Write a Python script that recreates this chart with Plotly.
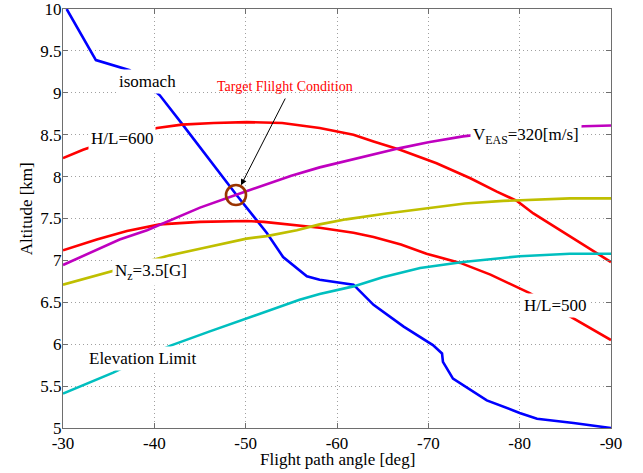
import plotly.graph_objects as go

# Constant-parameter curves over flight path angle [deg] vs altitude [km]
isomach_x = [-30.4, -33.6, -37.3, -40.6, -43.1, -46.0, -49.0, -52.3, -54.1, -56.7,
             -58.1, -61.8, -64.0, -67.3, -70.5, -71.5, -71.6, -72.7, -76.4, -80.0,
             -81.9, -85.9, -90.0]
isomach_y = [10.0, 9.39, 9.27, 8.97, 8.62, 8.20, 7.78, 7.33, 7.04, 6.81,
             6.77, 6.71, 6.47, 6.21, 5.99, 5.89, 5.79, 5.59, 5.33, 5.18,
             5.11, 5.06, 5.00]

hl600_x = [-30.0, -32.2, -36.0, -40.3, -43.0, -46.5, -50.1, -54.0, -58.1, -61.8,
           -64.0, -66.9, -70.9, -74.6, -77.5, -79.7, -81.5, -84.0, -86.2, -90.0]
hl600_y = [8.22, 8.32, 8.46, 8.58, 8.62, 8.64, 8.65, 8.64, 8.58, 8.50,
           8.42, 8.32, 8.16, 7.98, 7.82, 7.71, 7.56, 7.39, 7.24, 6.98]

hl500_x = [-30.0, -33.7, -37.0, -40.6, -45.0, -50.1, -52.0, -55.9, -58.1, -61.8,
           -64.0, -67.0, -69.8, -73.5, -76.8, -81.1, -83.5, -86.1, -90.0]
hl500_y = [7.12, 7.25, 7.35, 7.43, 7.46, 7.47, 7.46, 7.42, 7.39, 7.33,
           7.28, 7.19, 7.08, 6.97, 6.83, 6.61, 6.46, 6.30, 6.05]

veas_x = [-30.0, -34.05, -36.2, -39.2, -42.0, -45.0, -48.9, -52.0, -55.0, -58.1,
          -61.1, -64.0, -66.9, -70.0, -73.8, -77.0, -80.0, -84.0, -87.0, -90.0]
veas_y = [6.945, 7.14, 7.25, 7.36, 7.49, 7.63, 7.78, 7.90, 8.01, 8.11,
          8.19, 8.27, 8.34, 8.41, 8.48, 8.52, 8.55, 8.58, 8.60, 8.61]

nz_x = [-30.0, -34.8, -38.0, -41.7, -45.0, -50.1, -52.3, -55.6, -58.1, -61.0,
        -65.4, -70.9, -74.0, -78.2, -82.0, -85.5, -90.0]
nz_y = [6.71, 6.85, 6.95, 7.06, 7.14, 7.26, 7.29, 7.36, 7.43, 7.49,
        7.56, 7.64, 7.68, 7.71, 7.73, 7.74, 7.74]

elev_x = [-30.0, -35.5, -38.5, -41.7, -46.0, -50.1, -55.9, -58.1, -61.8, -65.0,
          -69.1, -73.8, -77.0, -80.0, -85.5, -90.0]
elev_y = [5.41, 5.66, 5.82, 5.98, 6.15, 6.31, 6.53, 6.60, 6.69, 6.80,
          6.91, 6.98, 7.02, 7.05, 7.08, 7.08]

target_x = [-48.94]
target_y = [7.78]

x_ticks = [-30, -40, -50, -60, -70, -80, -90]
y_ticks = [5, 5.5, 6, 6.5, 7, 7.5, 8, 8.5, 9, 9.5, 10]
y_tick_text = ["5", "5.5", "6", "6.5", "7", "7.5", "8", "8.5", "9", "9.5", "10"]

FONT = "Liberation Serif, Times New Roman, serif"
LW = 2.6

series = [
    (isomach_x, isomach_y, "#0000ff"),
    (hl600_x, hl600_y, "#ff0000"),
    (hl500_x, hl500_y, "#ff0000"),
    (veas_x, veas_y, "#bf00bf"),
    (nz_x, nz_y, "#bfbf00"),
    (elev_x, elev_y, "#00bfbf"),
]

fig = go.Figure()
for xs, ys, col in series:
    fig.add_trace(go.Scatter(x=xs, y=ys, mode="lines",
                             line=dict(color=col, width=LW),
                             showlegend=False, hoverinfo="skip"))

fig.add_trace(go.Scatter(x=target_x, y=target_y, mode="markers",
                         marker=dict(symbol="circle-open", size=20,
                                     color="#993300",
                                     line=dict(width=2.6, color="#993300")),
                         showlegend=False, hoverinfo="skip"))

def label(x, y, text, size=17, color="black"):
    return dict(x=x, y=y, xref="x", yref="y", text=text, showarrow=False,
                font=dict(family=FONT, size=size, color=color),
                bgcolor="white", borderpad=2, xanchor="center", yanchor="middle")

annotations = [
    label(-39.2, 9.13, "isomach"),
    label(-36.46, 8.46, "H/L=600"),
    label(-80.7, 8.49, "V<sub>EAS</sub>=320[m/s]"),
    label(-39.63, 6.86, "N<sub>z</sub>=3.5[G]"),
    label(-38.70, 5.83, "Elevation Limit"),
    label(-83.87, 6.46, "H/L=500"),
    dict(x=-54.36, y=9.07, xref="x", yref="y", text="Target Flilght Condition",
         showarrow=False, font=dict(family=FONT, size=14, color="#ff0000"),
         xanchor="center", yanchor="middle"),
    dict(x=target_x[0], y=target_y[0], xref="x", yref="y", text="",
         showarrow=True, ax=50, ay=-98, axref="pixel", ayref="pixel",
         arrowhead=2, arrowsize=1.2, arrowwidth=1, arrowcolor="black",
         standoff=11),
    dict(x=0.5, y=-0.074, xref="paper", yref="paper", text="Flight path angle [deg]",
         showarrow=False, font=dict(family=FONT, size=17, color="black"),
         xanchor="center", yanchor="middle"),
    dict(x=-0.066, y=0.524, xref="paper", yref="paper", text="Altitude [km]",
         showarrow=False, textangle=-90, font=dict(family=FONT, size=17, color="black"),
         xanchor="center", yanchor="middle"),
]

axis_common = dict(showline=True, linecolor="#6e6e6e", linewidth=1, mirror="ticks",
                   ticks="inside", ticklen=5, tickcolor="#6e6e6e", tickwidth=1,
                   showgrid=True, gridcolor="#a0a0a0", gridwidth=1, griddash="1px,3px",
                   zeroline=False, ticklabeloverflow="allow", automargin=False,
                   tickfont=dict(family=FONT, size=17, color="black"))

fig.update_layout(
    width=643, height=473,
    margin=dict(l=63, r=32, t=9, b=45, autoexpand=False),
    paper_bgcolor="white", plot_bgcolor="white",
    xaxis=dict(range=[-30, -90], tickvals=x_ticks, ticktext=[str(v) for v in x_ticks],
               **axis_common),
    yaxis=dict(range=[5, 10], tickvals=y_ticks, ticktext=y_tick_text,
               ticklabelstandoff=-3, **axis_common),
    annotations=annotations,
)

fig.write_html("out.html")
